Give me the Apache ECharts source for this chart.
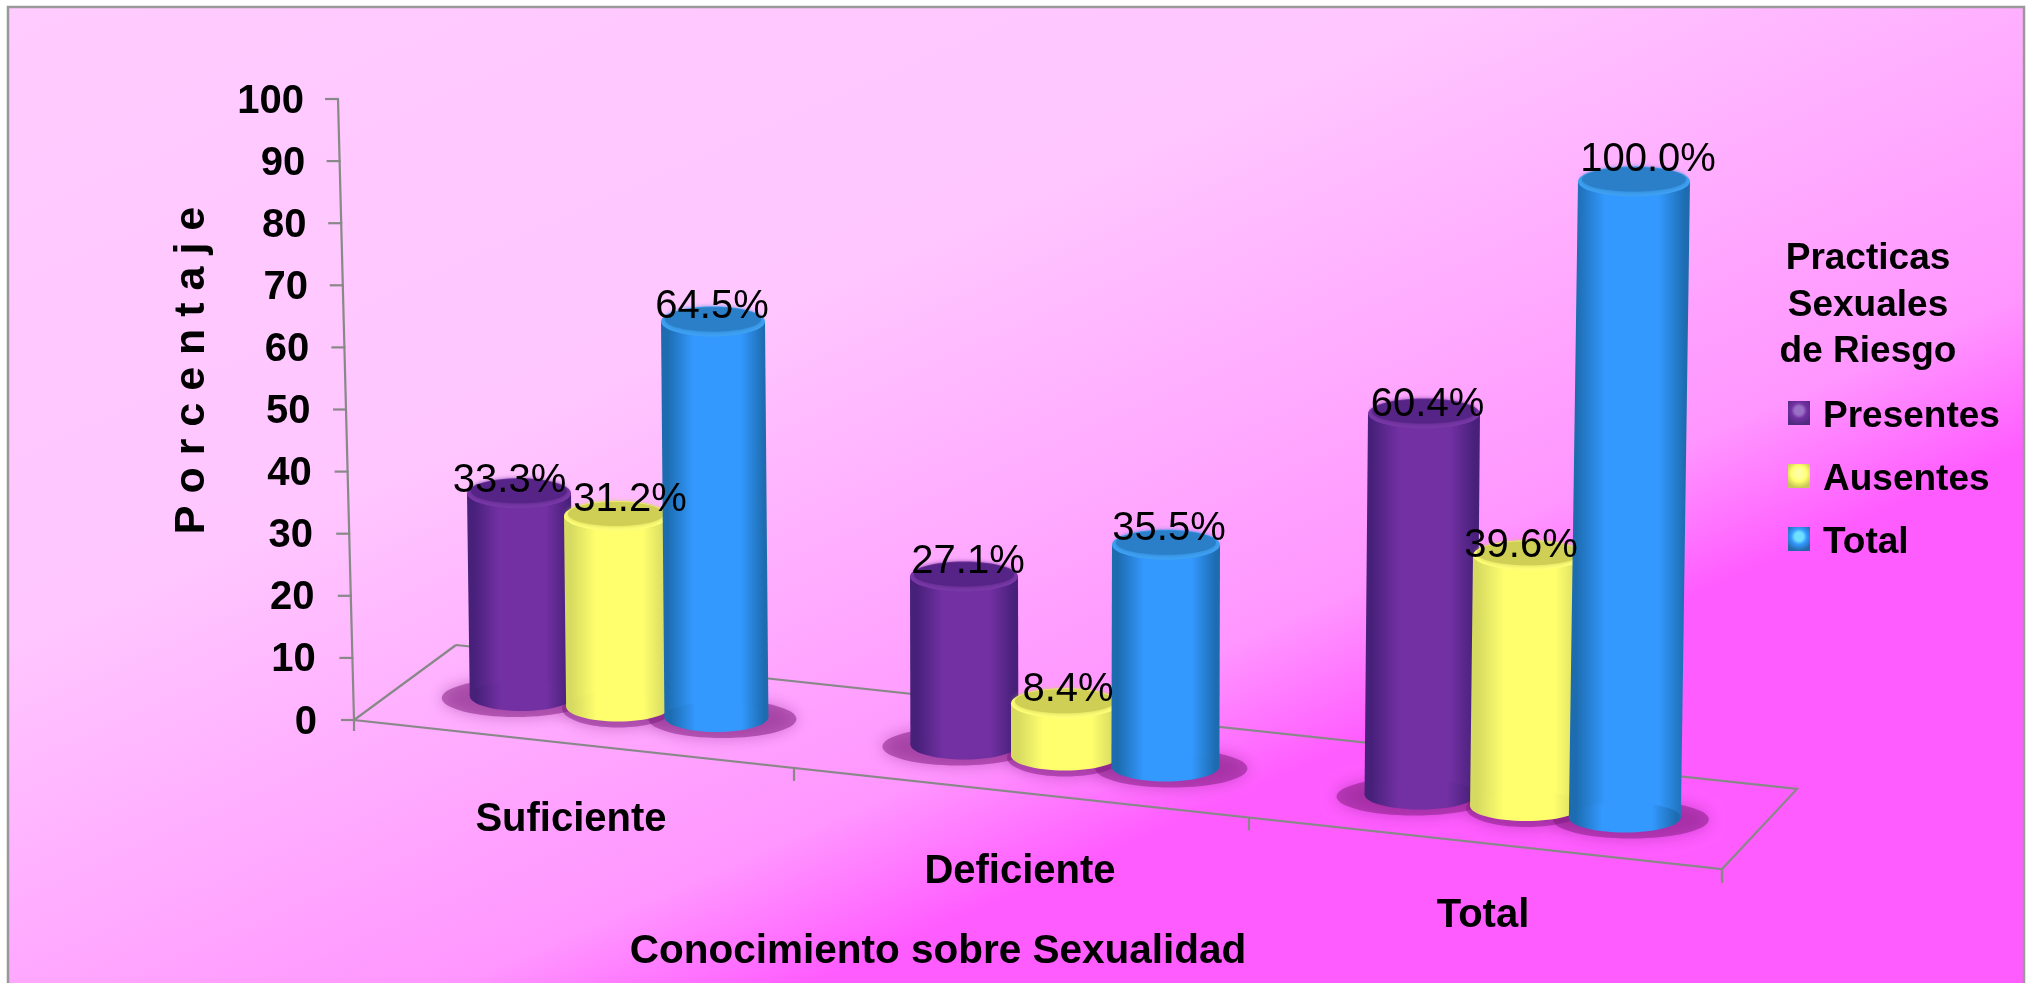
<!DOCTYPE html>
<html>
<head>
<meta charset="utf-8">
<script src="https://cdn.jsdelivr.net/npm/echarts@6/dist/echarts.min.js"></script>
<style>html,body{margin:0;padding:0;background:#fff}#c{width:2029px;height:983px}</style>
</head>
<body>
<div id="c"></div>
<script>
const categories = ['Suficiente', 'Deficiente', 'Total'];
const presentes = [33.3, 27.1, 60.4];
const ausentes = [31.2, 8.4, 39.6];
const total = [64.5, 35.5, 100.0];
const seriesNames = ['Presentes', 'Ausentes', 'Total'];
const seriesValues = [presentes, ausentes, total];
const yTicks = [0, 10, 20, 30, 40, 50, 60, 70, 80, 90, 100];
const legendTitle = 'Practicas\nSexuales\nde Riesgo';
const xTitle = 'Conocimiento sobre Sexualidad';
const yTitle = 'P o r c e n t a j e';

const FONT = '"Liberation Sans", Arial, sans-serif';
const G = echarts.graphic.LinearGradient;
const RG = echarts.graphic.RadialGradient;
const palette = [
  {edge:'#47207a', mid:'#7230a2', cap:'#562486', rim:'#7a38a8', shadow:'#4f2a80', hi:'#9a70c4'},
  {edge:'#d6da60', mid:'#ffff6e', cap:'#cfcf55', rim:'#ffff78', shadow:'#c8c858', hi:'#ffffa0'},
  {edge:'#1d6cb0', mid:'#3399ff', cap:'#2a7fc8', rim:'#3fa2f5', shadow:'#2468a8', hi:'#70e0ff'}
];
function sideGrad(p){
  return new G(0,0,1,0,[
    {offset:0,color:p.edge},{offset:.06,color:p.edge},{offset:.3,color:p.mid},
    {offset:.74,color:p.mid},{offset:.96,color:p.edge},{offset:1,color:p.edge}]);
}
// perspective of the picture's floor
const SLOPE = 0.1089, DEPTH = 42;
const groupShift = [34, 27, 35];
const labelNudge = [[-9.5, 14, -1], [4, 3, 3], [3.5, -8, 14]];
const labelDrop = [[5, 1, 2], [2, 4, 1], [8, 8, -4]];

function floorY(api, x){
  const o = api.coord([0, 0]), band = api.size([1, 0])[0];
  return o[1] + SLOPE * (x - (o[0] - band / 2));
}
function renderBar(s){
  return function(params, api){
    const i = api.value(0), v = api.value(1);
    const c0 = api.coord([i, 0]), c1 = api.coord([i, v]);
    const p = palette[s];
    const cx = c0[0] + groupShift[i] + (s - 1) * (97 + 4 * i);
    const r = 52 + 2 * i;
    const baseY0 = floorY(api, cx) - DEPTH;
    const unit = (6.08 + 0.28 * (cx - 500) / 1135) / 6.21;
    const h = (c0[1] - c1[1]) * unit;
    const topY = baseY0 - h;
    const bx = cx + 2.5e-5 * (1060 - cx) * h;
    const ry = 15, fill = sideGrad(p);
    return {type:'group', children:[
      {type:'ellipse', z2:1, silent:true,
        shape:{cx:bx+(s-1)*6, cy:baseY0+2, rx:s===1?r+4:r+22, ry:19},
        style:{fill:'rgba(125,25,125,0.5)', shadowBlur:16, shadowColor:'rgba(125,25,125,0.75)'}},
      {type:'polygon', z2:10+s*5, shape:{points:[[cx-r,topY],[cx+r,topY],[bx+r,baseY0],[bx-r,baseY0]]}, style:{fill:fill}},
      {type:'ellipse', z2:10+s*5, shape:{cx:bx, cy:baseY0, rx:r, ry:ry}, style:{fill:fill}},
      {type:'ellipse', z2:11+s*5, shape:{cx:cx, cy:topY, rx:r, ry:ry}, style:{fill:p.rim}},
      {type:'ellipse', z2:12+s*5, shape:{cx:cx, cy:topY-2, rx:r-4, ry:ry-3},
        style:{fill:p.cap, shadowBlur:5, shadowColor:p.cap}},
      {type:'text', z2:100, silent:true,
        style:{text:v.toFixed(1)+'%', x:cx+labelNudge[i][s], y:topY-ry-2+labelDrop[i][s], fill:'#000',
          font:'40px '+FONT, align:'center', verticalAlign:'middle'}}
    ]};
  };
}
function renderFrame(params, api){
  const LINE = {stroke:'#888888', lineWidth:2.2};
  const o = api.coord([0, 0]), band = api.size([1, 0])[0];
  const L = o[0] - band / 2, R = L + band * categories.length, y0 = o[1];
  const front = [L, y0], frontR = [R, floorY(api, R)];
  const backL = [L + 102, y0 - 75], backR = [R + 75, frontR[1] - 80];
  const kids = [
    {type:'polyline', shape:{points:[backL, backR, frontR, front, backL]}, style:Object.assign({fill:null},LINE)},
    {type:'line', shape:{x1:L, y1:y0, x2:L, y2:y0+11}, style:LINE}
  ];
  [0, 16, 17, 0].forEach(function(d, k){
    if (!k) return;
    const x = L + band * k - d, y = floorY(api, x);
    kids.push({type:'line', shape:{x1:x, y1:y, x2:x, y2:y+13}, style:LINE});
  });
  kids.push({type:'line', shape:{x1:R, y1:frontR[1], x2:R, y2:frontR[1]+14}, style:LINE});
  const lean = function(v){ return 0.16 * v; };
  const top = api.coord([0, 100])[1];
  kids.push({type:'line', shape:{x1:L, y1:y0, x2:L-lean(100), y2:top}, style:LINE});
  yTicks.forEach(function(v){
    const y = api.coord([0, v])[1], x = L - lean(v);
    kids.push({type:'line', shape:{x1:x-13, y1:y, x2:x+1, y2:y}, style:LINE});
  });
  return {type:'group', silent:true, children:kids};
}

const yRich = {}, xRich = {};
yTicks.forEach(function(v){
  yRich['t'+v] = {fontFamily:FONT, fontWeight:'bold', fontSize:40, color:'#000', padding:[5, 0.13*v, 0, 0]};
});
const xPad = [[70,22],[122,36],[166,22]];
categories.forEach(function(c, i){
  xRich['c'+i] = {fontFamily:FONT, fontWeight:'bold', fontSize:40, color:'#000', padding:[xPad[i][0], xPad[i][1], 0, 0]};
});

const series = [{
  type:'custom', name:'floor', coordinateSystem:'cartesian2d', silent:true,
  data:[[0,0]], renderItem:renderFrame, z:2
}].concat(seriesNames.map(function(n, s){
  return {
    type:'custom', name:n, coordinateSystem:'cartesian2d', z:3,
    itemStyle:{color:palette[s].mid},
    encode:{x:0, y:1},
    data:seriesValues[s].map(function(v, i){ return [i, v]; }),
    renderItem:renderBar(s)
  };
}));

const chart = echarts.init(document.getElementById('c'), null, {renderer:'canvas'});
chart.setOption({
  animation:false,
  backgroundColor:'#ffffff',
  graphic:{elements:[{
    type:'rect', z:-10, silent:true,
    shape:{x:8, y:7, width:2016, height:1000},
    style:{
      fill:new G(0,0,494,1123,[
        {offset:0,color:'#ffccff'},{offset:.485,color:'#ffc6ff'},
        {offset:.884,color:'#ff96ff'},{offset:1,color:'#ff5cff'}],true),
      stroke:'#999999', lineWidth:2.5
    }
  }]},
  grid:{left:354, top:99, width:1368, height:621, containLabel:false, outerBoundsMode:'none'},
  title:{
    text:legendTitle, left:1868, top:236, textAlign:'center', padding:0,
    textStyle:{fontFamily:FONT, fontWeight:'bold', fontSize:37, lineHeight:46.5, color:'#000'}
  },
  legend:{
    orient:'vertical', left:1788, top:398.5, padding:0, icon:'rect',
    itemWidth:22, itemHeight:24, itemGap:26, selectedMode:false,
    formatter:'{a|{name}}',
    textStyle:{rich:{a:{fontFamily:FONT, fontWeight:'bold', fontSize:37, color:'#000', padding:[8,0,0,8]}}},
    data:seriesNames.map(function(n, s){
      return {name:n, itemStyle:{color:new RG(0.5,0.4,0.65,[
        {offset:0,color:palette[s].hi},{offset:.3,color:palette[s].hi},{offset:.55,color:palette[s].mid},{offset:1,color:palette[s].shadow}])}};
    })
  },
  xAxis:{
    type:'category', data:categories,
    axisLine:{show:false}, axisTick:{show:false}, splitLine:{show:false},
    axisLabel:{interval:0, margin:10, formatter:function(v, i){ return '{c'+i+'|'+v+'}'; }, rich:xRich},
    name:xTitle, nameLocation:'middle', nameGap:211, nameMoveOverlap:false,
    nameTextStyle:{fontFamily:FONT, fontWeight:'bold', fontSize:40.5, color:'#000', padding:[0,200,0,0]}
  },
  yAxis:{
    type:'value', min:0, max:100, interval:10,
    axisLine:{show:false}, axisTick:{show:false}, splitLine:{show:false},
    axisLabel:{margin:37, formatter:function(v){ return '{t'+v+'|'+v+'}'; }, rich:yRich},
    name:yTitle, nameLocation:'middle', nameGap:140, nameRotate:90,
    nameTextStyle:{fontFamily:FONT, fontWeight:'bold', fontSize:43, color:'#000', padding:[0,0,0,78]}
  },
  series:series
});
</script>
</body>
</html>
